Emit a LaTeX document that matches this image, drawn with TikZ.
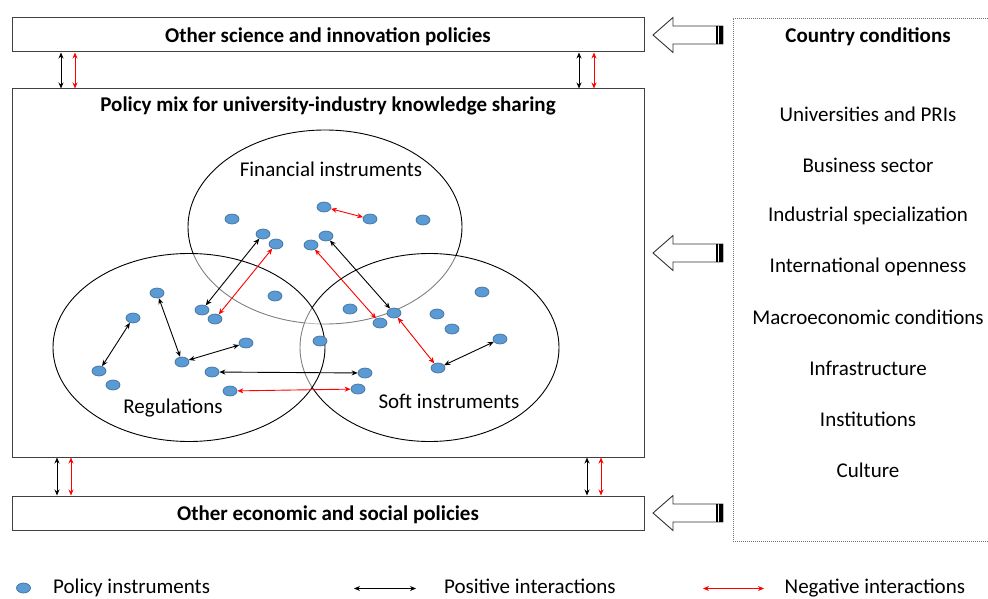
\documentclass[tikz,border=0pt]{standalone}
\usepackage{fontspec}
\setmainfont{Carlito}
\usetikzlibrary{arrows.meta,shapes.geometric}
\definecolor{dotfill}{HTML}{5B9BD5}
\definecolor{dotline}{HTML}{41719C}
\begin{document}
\begin{tikzpicture}[x=1pt,y=-1pt,
  every node/.style={font=\fontsize{21}{25}\selectfont, inner sep=0pt},
  box/.style={draw=black!75, line width=1pt, rectangle, minimum width=632pt},
  head/.style={font=\fontsize{21}{25}\selectfont\bfseries},
  dot/.style={ellipse, draw=dotline, fill=dotfill, line width=0.7pt,
              minimum width=14pt, minimum height=10pt},
  area/.style={ellipse, draw=black, line width=0.9pt, fill=white, fill opacity=0.5},
  poslink/.style={{Stealth[length=6pt,width=5pt]}-{Stealth[length=6pt,width=5pt]}, line width=0.9pt, draw=black},
  neglink/.style={poslink, draw=red},
  hollow/.style={draw=black!80, line width=0.9pt, fill=white},
  dotted frame/.style={draw=black!55, line width=0.8pt, dash pattern=on 1pt off 1pt}
]
\useasboundingbox (0,0) rectangle (988,599);

% policy boxes
\node[box, minimum height=34pt] (top) at (328,35) {};
\node[head] at (328,37) {Other science and innovation policies};
\node[box, minimum height=368pt] (main) at (328,273) {};
\node[head] (mix) at (328,106) {Policy mix for university-industry knowledge sharing};
\node[box, minimum height=34pt] (bot) at (328,513) {};
\node[head] at (328,515) {Other economic and social policies};

% links between the policy boxes
\coordinate (ka) at (61,0);  \coordinate (kb) at (75,0);
\coordinate (kc) at (579,0); \coordinate (kd) at (594,0);
\coordinate (ke) at (57,0);  \coordinate (kf) at (71,0);
\coordinate (kg) at (587,0); \coordinate (kh) at (601,0);
\draw[poslink] (top.south -| ka) -- (main.north -| ka);
\draw[neglink] (top.south -| kb) -- (main.north -| kb);
\draw[poslink] (top.south -| kc) -- (main.north -| kc);
\draw[neglink] (top.south -| kd) -- (main.north -| kd);
\draw[poslink] (main.south -| ke) -- (bot.north -| ke);
\draw[neglink] (main.south -| kf) -- (bot.north -| kf);
\draw[poslink] (main.south -| kg) -- (bot.north -| kg);
\draw[neglink] (main.south -| kh) -- (bot.north -| kh);

% instrument families
\node[area, minimum width=274pt, minimum height=194pt] (fin) at (325,227) {};
\node[area, minimum width=259pt, minimum height=188pt] (soft) at (429.5,347.5) {};
\node[area, minimum width=272pt, minimum height=188pt] (reg) at (189,347.5) {};
\node (finlab) at (331,169) {Financial instruments};
\node (reglab) at (173,408) {Regulations};
\node (softlab) at (449,401) {Soft instruments};

% country conditions
\node[dotted frame, rectangle, minimum width=270pt, minimum height=523pt, anchor=north west] (cc) at (733,18) {};
\node[head] at (868,37) {Country conditions};
\foreach \t [count=\i from 0] in {Universities and PRIs, Business sector, Industrial specialization,
  International openness, Macroeconomic conditions, Infrastructure, Institutions, Culture}
  \node at (868,114+50.9*\i) {\t};

% block arrows from the country conditions
\foreach \yc in {35,253,513} {
  \draw[hollow] (653,\yc) -- (673,\yc-17.5) -- (673,\yc-9) -- (723,\yc-9)
     -- (723,\yc+9) -- (673,\yc+9) -- (673,\yc+17.5) -- cycle;
  \fill (716,\yc-9) rectangle (717.6,\yc+9);
  \fill (719,\yc-9) rectangle (723,\yc+9);
}

% policy instruments
\foreach \n/\x/\y in {1/232/219, 2/324/207, 3/370/219, 4/423/220, 5/263/234, 6/276/244,
  7/326/236, 8/311/245, 9/275/296, 10/202/310, 11/215/319, 12/157/293, 13/133/318,
  14/246/343, 15/182/362, 16/99/371, 17/113/385, 18/212/372, 19/230/391, 20/320/341,
  21/350/309, 22/380/323, 23/394/313, 24/437/314, 25/452/329, 26/482/292, 27/500/339,
  28/438/368, 29/365/373, 30/358/389}
  \node[dot] (d\n) at (\x,\y) {};

% interactions
\draw[poslink] (d5) -- (d10);
\draw[neglink] (d6) -- (d11);
\draw[neglink] (d2) -- (d3);
\draw[neglink] (d8) -- (d22);
\draw[poslink] (d7) -- (d23);
\draw[neglink] (d23) -- (d28);
\draw[poslink] (d28) -- (d27);
\draw[poslink] (d13) -- (d16);
\draw[poslink] (d12) -- (d15);
\draw[poslink] (d15) -- (d14);
\draw[poslink] (d18) -- (d29);
\draw[neglink] (d19) -- (d30);

% legend
\node[dot] (ldot) at (23.5,588) {};
\node[anchor=base west] at (53,593.5) {Policy instruments};
\coordinate (la) at (354,588.5); \coordinate (lb) at (416,588.5);
\draw[poslink] (la) -- (lb);
\node[anchor=base west] at (444,593.5) {Positive interactions};
\coordinate (lc) at (703,588.5); \coordinate (ld) at (764,588.5);
\draw[neglink] (lc) -- (ld);
\node[anchor=base west] at (784.5,593.5) {Negative interactions};
\end{tikzpicture}
\end{document}
